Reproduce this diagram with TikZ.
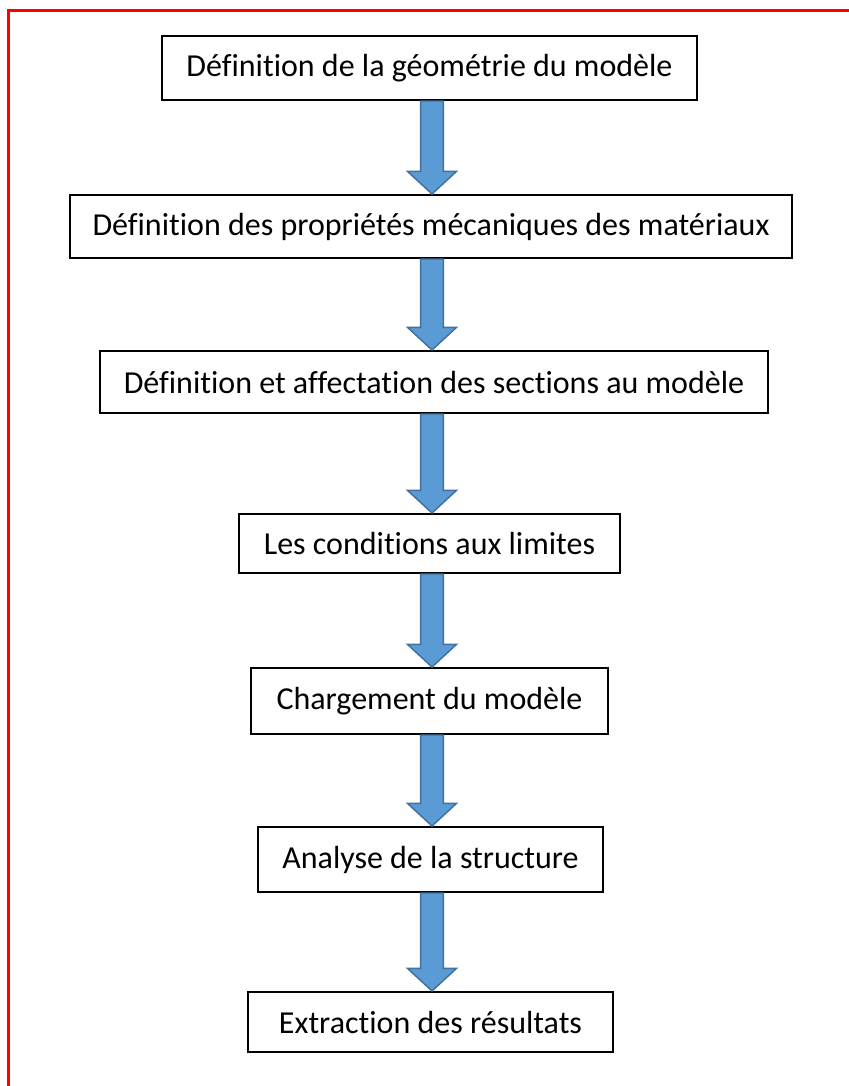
\documentclass[tikz,border=0pt]{standalone}
\usepackage{fontspec}
\setmainfont{Carlito}[Ligatures={NoCommon}]
\usetikzlibrary{calc}
\definecolor{arrfill}{HTML}{5B9BD5}
\definecolor{arrline}{HTML}{41719C}
\begin{document}
\begin{tikzpicture}[x=0.75pt,y=-0.75pt,
  stepbox/.style={draw=black,line width=1.5pt,fill=white,inner sep=0pt,font=\fontsize{24}{28}\selectfont},
  blockarr/.style={fill=arrfill,draw=arrline,line width=1.1pt,line join=miter}]
\useasboundingbox (0,0) rectangle (849,1086);
\draw[red,line width=1.9pt] (8.5,1086) -- (8.5,10.5) -- (849,10.5);
\node[stepbox,minimum width=535*0.75pt,minimum height=64*0.75pt] (b1) at (429.5,68) {Définition de la géométrie du modèle};
\node[stepbox,minimum width=722*0.75pt,minimum height=63*0.75pt] (b2) at (431,226.5) {Définition des propriétés mécaniques des matériaux};
\node[stepbox,minimum width=668*0.75pt,minimum height=62*0.75pt] (b3) at (434,382) {Définition et affectation des sections au modèle};
\node[stepbox,minimum width=381*0.75pt,minimum height=59*0.75pt] (b4) at (429.5,543.5) {Les conditions aux limites};
\node[stepbox,minimum width=357*0.75pt,minimum height=66*0.75pt] (b5) at (429.5,701) {Chargement du modèle};
\node[stepbox,minimum width=345*0.75pt,minimum height=65*0.75pt] (b6) at (430.5,859.5) {Analyse de la structure};
\node[stepbox,minimum width=365*0.75pt,minimum height=60*0.75pt] (b7) at (430.5,1022) {Extraction des résultats};
\def\cx{324pt}\def\sw{8.6pt}\def\hw{18.4pt}\def\hh{17pt}
\newcommand\blockarrow[2]{%
  \draw[blockarr] let \p1=(#1.south), \p2=(#2.north) in
    (\cx-\sw,\y1) -- (\cx-\sw,\y2+\hh) -- (\cx-\hw,\y2+\hh) -- (\cx,\y2)
    -- (\cx+\hw,\y2+\hh) -- (\cx+\sw,\y2+\hh) -- (\cx+\sw,\y1) -- cycle;}
\blockarrow{b1}{b2}
\blockarrow{b2}{b3}
\blockarrow{b3}{b4}
\blockarrow{b4}{b5}
\blockarrow{b5}{b6}
\blockarrow{b6}{b7}
\end{tikzpicture}
\end{document}
